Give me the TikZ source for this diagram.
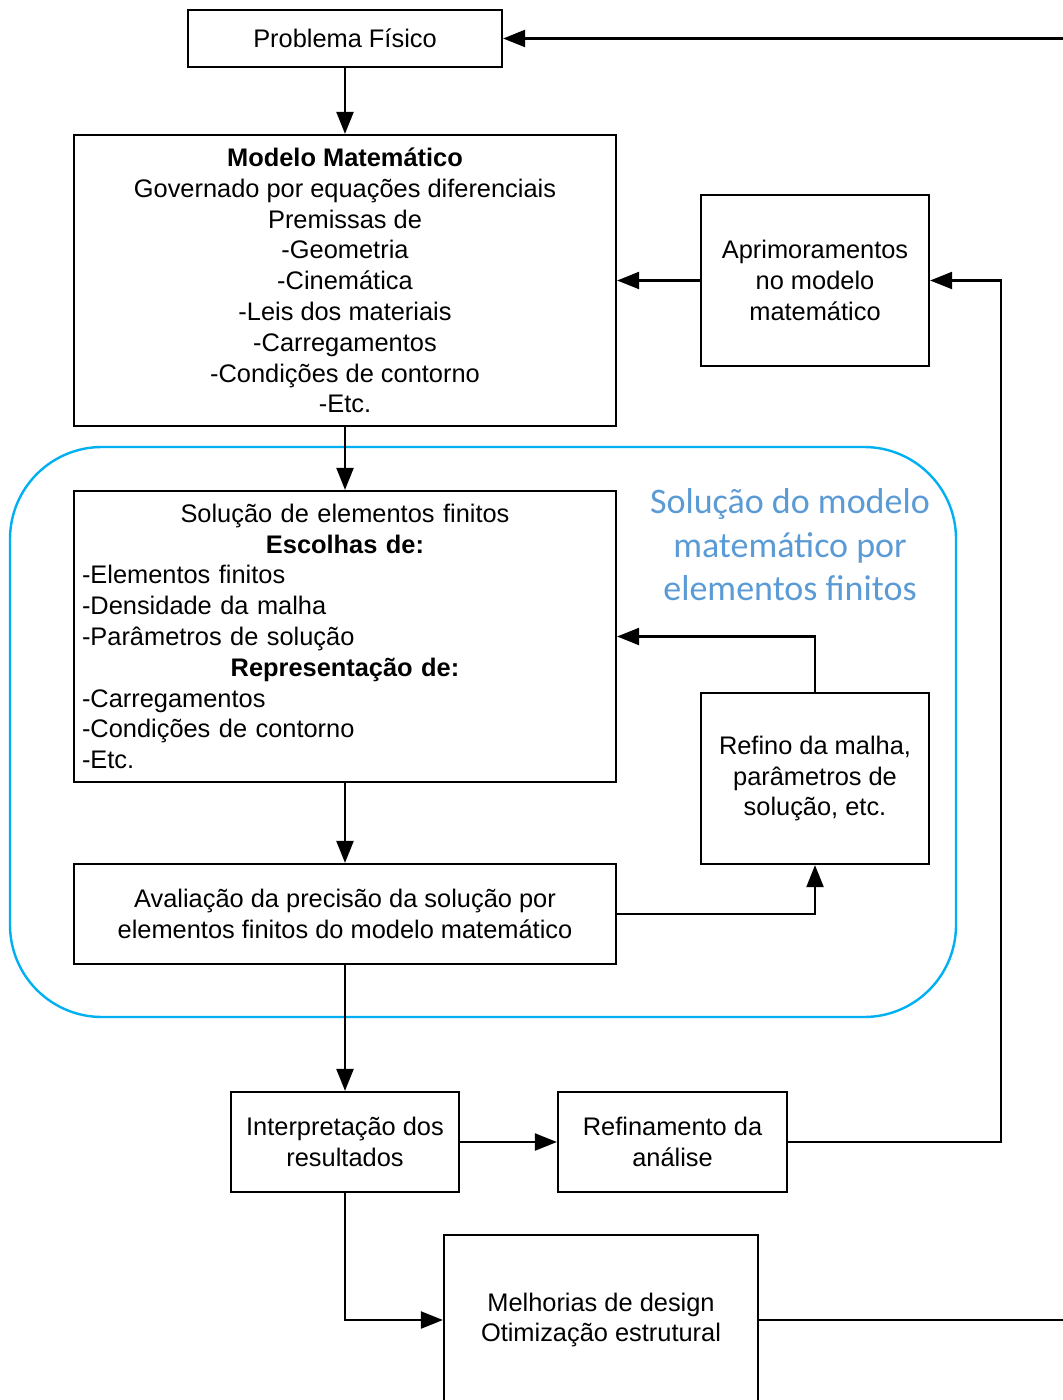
\documentclass[tikz,border=0pt]{standalone}
\usepackage{fontspec}
\setmainfont{Liberation Sans}
\newfontfamily\fonterotulo{Carlito}
\usetikzlibrary{arrows.meta}
\definecolor{azulborda}{RGB}{0,176,240}
\definecolor{azultexto}{RGB}{91,155,213}

\begin{document}
\begin{tikzpicture}[x=0.5pt, y=-0.5pt,
    caixa/.style={draw, line width=1.1pt, align=center, inner sep=4pt,
      font=\fontsize{12.7}{15.4}\selectfont},
    seta/.style={-{Triangle[length=11pt,width=8.5pt]}, line width=1.1pt},
    rotulo/.style={align=center, text=azultexto,
      font=\fonterotulo\fontsize{18}{21.7}\selectfont}]
  \useasboundingbox (0, 0) rectangle (1063, 1400);

  \draw[azulborda, line width=1.2pt, rounded corners=46pt] (10, 447) rectangle (956, 1017);
  \node[rotulo] (rotulo) at (790, 545) {Solução do modelo\\matemático por\\elementos finitos};

  \node[caixa, minimum width=157pt, minimum height=28.5pt] (problema) at (345, 38.5) {Problema Físico};
  \node[caixa, minimum width=271pt, minimum height=145.5pt] (modelo) at (345, 280.5)
    {\textbf{Modelo Matemático}\\Governado por equações diferenciais\\Premissas de\\-Geometria\\-Cinemática\\
     -Leis dos materiais\\-Carregamentos\\-Condições de contorno\\-Etc.};
  \node[caixa, minimum width=114pt, minimum height=85.5pt] (aprimoramento) at (815, 280.5)
    {Aprimoramentos\\no modelo\\matemático};
  \node[caixa, minimum height=145.5pt, text width=263pt, align=left] (solucao) at (345, 636.5)
    {\hfill Solução de elementos finitos\hfill\null\\
     \hfill\textbf{Escolhas de:}\hfill\null\\
     -Elementos finitos\\-Densidade da malha\\-Parâmetros de solução\\
     \hfill\textbf{Representação de:}\hfill\null\\
     -Carregamentos\\-Condições de contorno\\-Etc.};
  \node[caixa, minimum width=114pt, minimum height=85.5pt] (refino) at (815, 778.5)
    {Refino da malha,\\parâmetros de\\solução, etc.};
  \node[caixa, minimum width=271pt, minimum height=50pt] (avaliacao) at (345, 914)
    {Avaliação da precisão da solução por\\elementos finitos do modelo matemático};
  \node[caixa, minimum width=114pt, minimum height=50pt] (interpretacao) at (345, 1142)
    {Interpretação dos\\resultados};
  \node[caixa, minimum width=114.5pt, minimum height=50pt] (refinamento) at (672.5, 1142)
    {Refinamento da\\análise};
  \node[caixa, minimum width=157pt, minimum height=85pt] (melhorias) at (601, 1320)
    {Melhorias de design\\Otimização estrutural};

  \coordinate (entrada) at (1063, 38.5);
  \coordinate (saida) at (1063, 1320);

  \draw[seta] (entrada) -- (problema);
  \draw[seta] (problema) -- (modelo);
  \draw[seta] (aprimoramento) -- (modelo);
  \draw[seta] (modelo) -- (solucao);
  \draw[seta] (refino.north) |- (solucao.east);
  \draw[seta] (solucao) -- (avaliacao);
  \draw[seta] (avaliacao.east) -| (refino.south);
  \draw[seta] (avaliacao) -- (interpretacao);
  \draw[seta] (interpretacao) -- (refinamento);
  \draw[seta] (refinamento.east) -- ++(213, 0) |- (aprimoramento.east);
  \draw[seta] (interpretacao.south) |- (melhorias.west);
  \draw[line width=1.1pt] (melhorias.east) -- (saida);
\end{tikzpicture}
\end{document}
